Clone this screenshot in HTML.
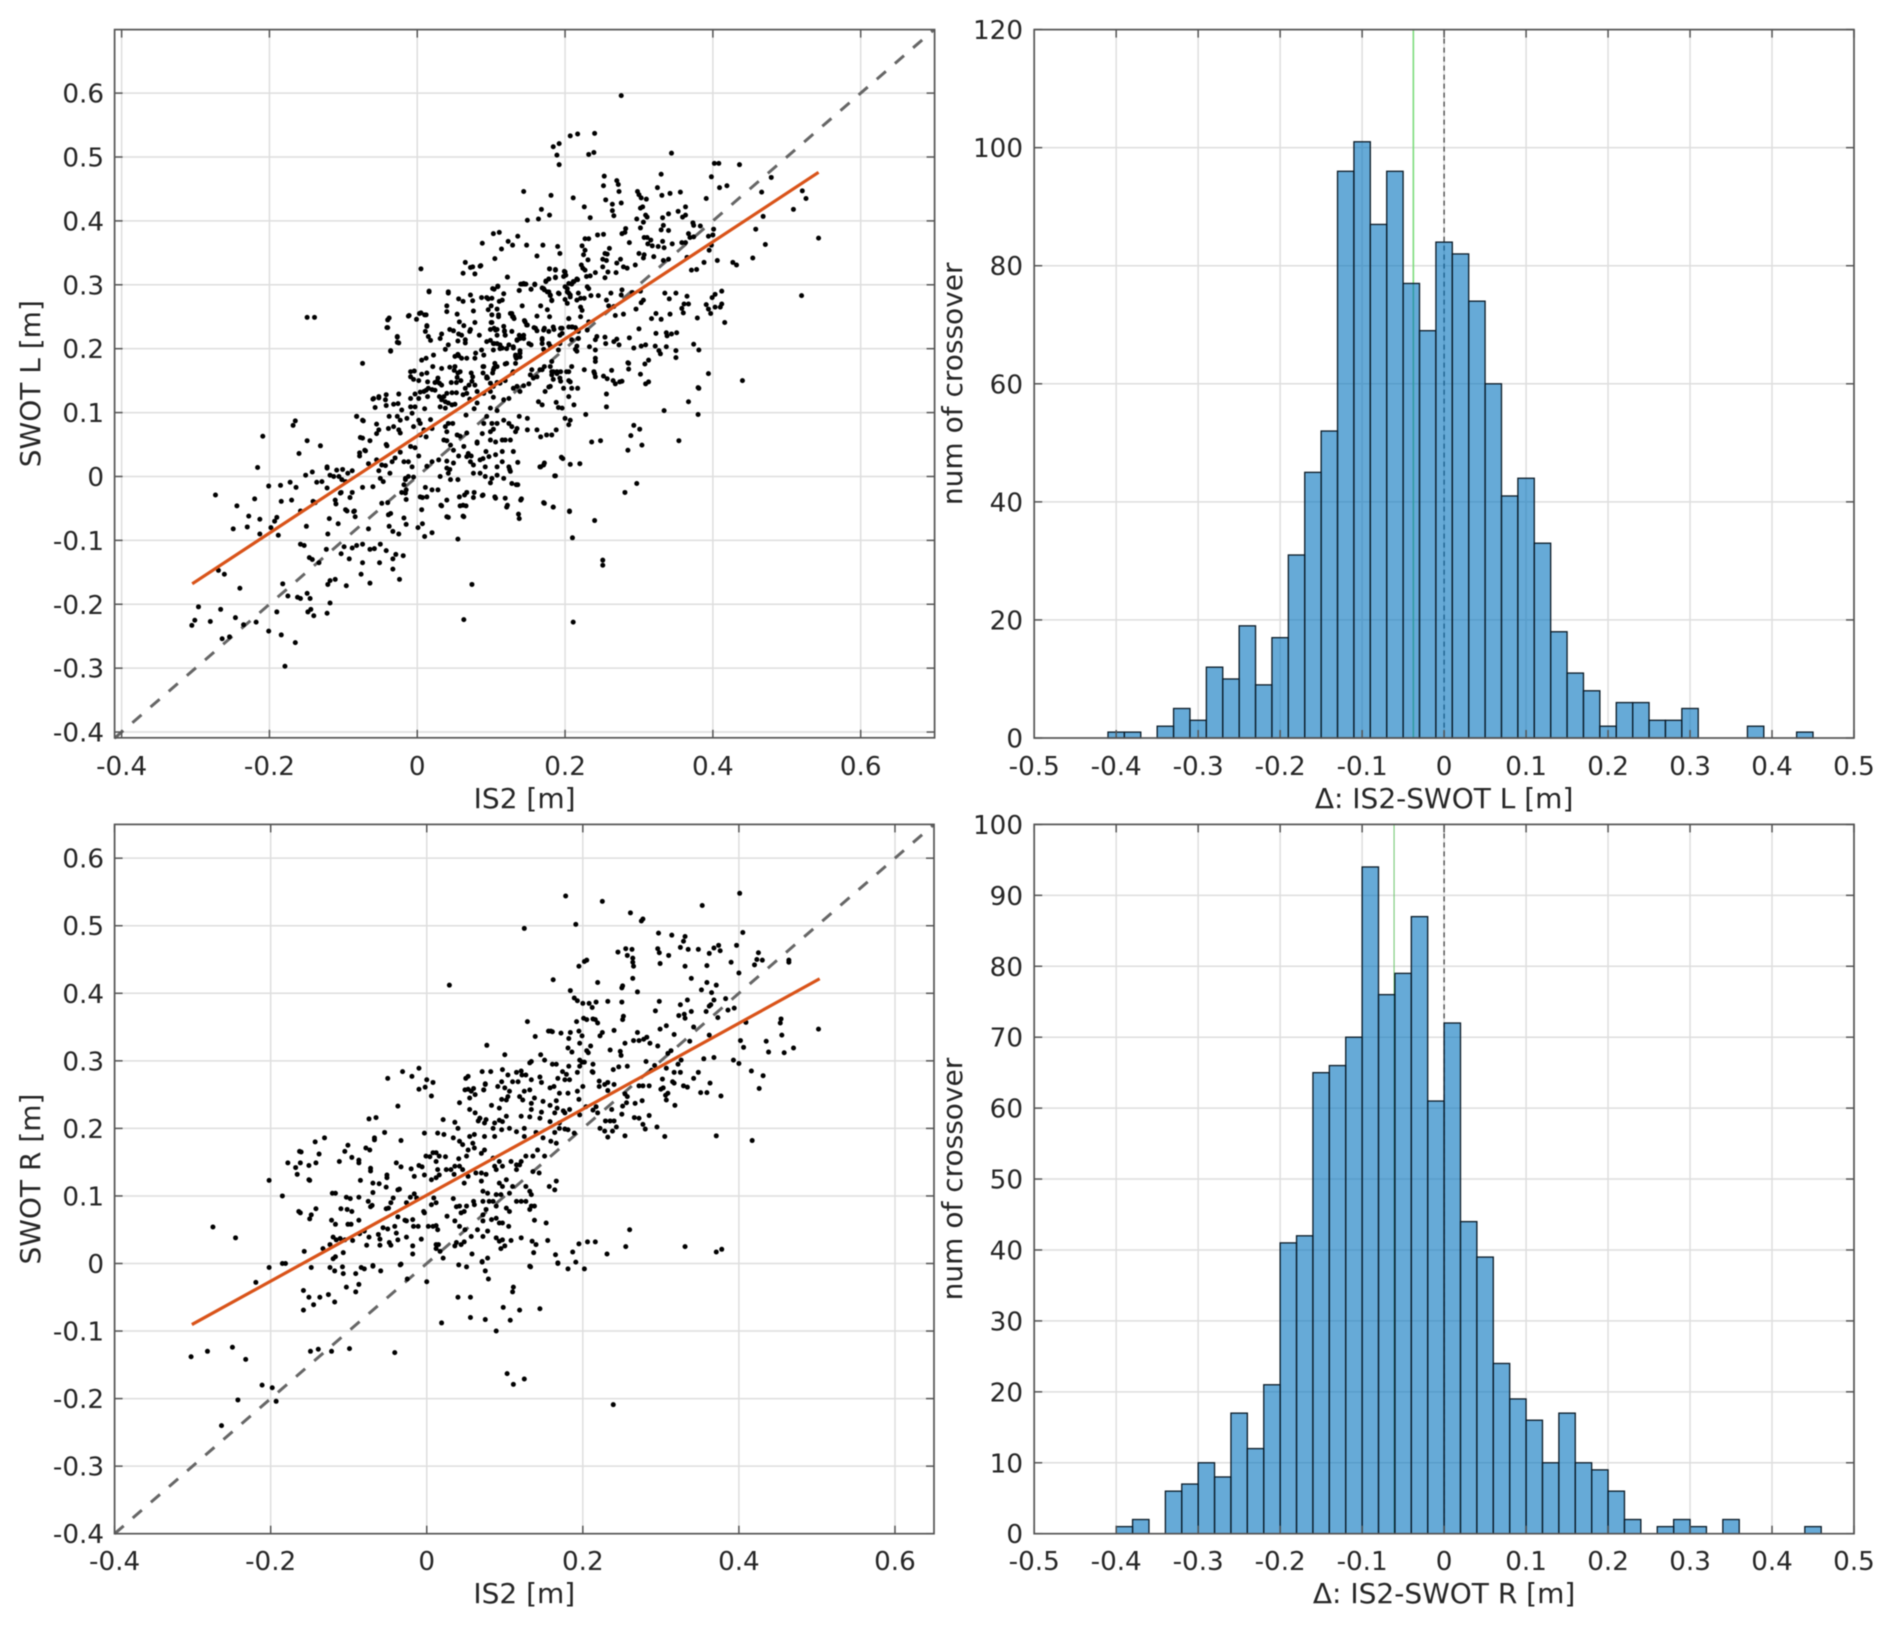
<!DOCTYPE html>
<html lang="en">
<head>
<meta charset="utf-8">
<title>IS2 versus SWOT crossover comparison</title>
<style>
html,body{margin:0;padding:0;background:#fff;width:1892px;height:1626px;overflow:hidden}
svg{display:block;filter:blur(0.4px)}
text{font-family:"DejaVu Sans","Liberation Sans",sans-serif;fill:#262626}
</style>
</head>
<body>
<svg id="fig" xmlns="http://www.w3.org/2000/svg" width="1892" height="1626" viewBox="0 0 1892 1626"></svg>
<script>
/* Scatter values: [IS2, SWOT] in millimetres */
const scatterLeft=[[-305,-233],[-301,-225],[-296,-204],[-280,-227],[-273,-29],[-269,-147],[-266,-208],[-264,-254],[-261,-153],[-254,-251],[-249,-82],[-244,-46],[-246,-221],[-240,-175],[-235,-232],[-230,-79],[-228,-62],[-220,-35],[-218,-228],[-216,14],[-213,-67],[-213,-90],[-209,63],[-201,-15],[-201,-242],[-198,-80],[-193,-70],[-190,-64],[-190,-212],[-188,-92],[-185,-14],[-184,-39],[-184,-248],[-182,-168],[-179,-297],[-175,-187],[-172,-9],[-170,-37],[-168,80],[-165,-260],[-165,87],[-164,-17],[-162,-189],[-160,36],[-158,-106],[-158,-54],[-158,-191],[-153,-108],[-151,2],[-149,249],[-149,56],[-150,-78],[-149,-183],[-148,-212],[-146,-127],[-145,-191],[-144,-208],[-142,7],[-141,-39],[-139,249],[-140,-218],[-136,-9],[-131,48],[-133,-135],[-121,-90],[-122,-214],[-121,-169],[-118,-163],[-111,-161],[-118,-198],[-122,15],
[5,325],[65,335],[62,318],[72,327],[75,328],[86,330],[78,317],[16,289],[42,289],[56,278],[62,274],[72,284],[75,275],[87,280],[94,280],[96,278],[101,279],[104,293],[109,297],[122,312],[117,286],[115,276],[111,274],[138,291],[142,301],[145,301],[147,301],[154,293],[159,300],[169,295],[172,292],[174,305],[178,309],[179,325],[187,323],[187,312],[199,321],[201,315],[205,302],[212,305],[217,308],[178,289],[180,284],[182,275],[191,287],[203,294],[205,287],[207,281],[200,277],[203,271],[216,276],[142,267],[167,267],[176,261],[162,251],[179,250],[100,267],[108,262],[96,261],[76,259],[40,258],[5,256],[12,253],[-12,251],[-1,246],[-38,248],[-41,233],[54,254],[57,242],[63,236],[78,241],[13,235],[11,227],[15,219],[18,213],[-27,219],[-25,209],[-36,197],[-74,177],[33,223],[31,216],[44,230],[49,228],[60,221],[56,223],[55,212],[65,214],[65,209],[71,227],[72,230],[84,221],[99,230],[104,232],[108,230],[117,235],[126,255],[129,250],[131,247],[145,244],[149,237],[158,233],[162,228],[172,232],[178,227],[184,234],[196,232],[205,247],[209,234],[216,229],[218,216],[101,241],[110,250],[108,221],[118,228],[119,221],[94,211],[104,208],[112,206],[115,201],[124,206],[130,201],[135,214],[139,216],[144,221],[133,190],[139,197],[154,206],[169,214],[171,199],[180,204],[191,198],[193,221],[209,214],[214,199],[42,206],[38,199],[55,191],[51,188],[56,189],[22,190],[12,185],[6,182],[79,193],[90,190],[87,198],[78,185],[67,185],[60,185],[103,198],[119,176],[108,172],[133,177],[134,185],[139,187],
[-9,164],[-4,165],[-9,156],[-5,152],[6,160],[2,150],[13,162],[21,172],[14,148],[33,169],[44,171],[51,172],[50,166],[55,162],[58,164],[54,155],[59,150],[73,162],[75,156],[28,154],[24,147],[30,146],[53,147],[46,147],[89,172],[89,162],[95,154],[102,162],[104,170],[112,146],[108,147],[119,150],[129,162],[-59,122],[-52,125],[-42,128],[-25,129],[-57,108],[-42,111],[-32,113],[-26,114],[-9,122],[-3,129],[4,132],[9,133],[12,135],[15,138],[20,136],[24,135],[27,149],[33,143],[2,122],[14,125],[30,125],[36,125],[40,130],[47,131],[53,131],[33,120],[38,117],[42,115],[47,112],[51,113],[31,109],[38,107],[-9,109],[-3,109],[10,106],[65,138],[70,143],[74,149],[78,143],[67,130],[62,128],[81,133],[90,130],[94,156],[99,146],[103,141],[99,133],[103,124],[71,121],[81,115],[66,96],[77,106],[94,94],[99,107],[108,103],[117,120],[124,122],[130,138],[135,141],[144,142],[151,145],[139,133],[157,154],[166,167],[172,172],[180,172],[184,164],[182,159],[189,161],[194,164],[205,164],[184,152],[164,117],[169,112],[188,116],[191,108],[196,107],[180,141],[173,133],[194,149],[205,150],[209,138],[217,138],[205,125],[212,112],
[-82,94],[-73,87],[-38,94],[-27,94],[-21,104],[-23,88],[-14,91],[-7,99],[2,88],[4,83],[18,89],[42,83],[48,83],[-55,82],[-52,73],[-55,67],[-39,75],[-32,78],[-25,73],[-23,68],[-5,78],[9,73],[20,75],[12,62],[4,65],[-77,61],[-64,56],[-78,37],[-71,41],[-42,50],[-41,48],[-23,38],[-9,47],[-3,45],[2,32],[-30,29],[-66,20],[-55,26],[38,78],[40,70],[36,57],[40,56],[54,65],[58,63],[67,68],[81,54],[88,67],[99,70],[103,74],[108,83],[101,83],[90,83],[99,57],[106,54],[115,57],[119,57],[126,57],[117,88],[124,83],[128,78],[135,75],[133,70],[138,94],[149,91],[149,73],[162,73],[167,62],[175,65],[182,65],[188,73],[200,91],[207,88],[205,81],[45,49],[49,41],[63,47],[69,36],[81,52],[93,39],[97,31],[106,34],[115,39],[130,39],[136,22],[67,31],[72,23],[76,18],[85,26],[92,15],[108,15],[124,15],[126,8],[197,28],[172,21],[166,15],[220,20],[186,1],[-48,18],[-43,17],[-52,9],[-37,5],[-34,23],[-18,23],[-12,23],[-7,15],[-16,-3],[-12,0],[-50,-3],[-46,-8],[13,16],[20,23],[29,26],[40,24],[49,21],[40,13],[42,5],[31,0],[45,-5],[55,-5],[76,5],[85,5],[92,0],[101,-3],[99,-10],[117,-3],[128,-11],[136,-13],[108,2],
[-122,13],[-118,2],[-113,0],[-109,10],[-101,11],[-106,0],[-102,-5],[-97,-8],[-94,5],[-88,9],[-129,-8],[-122,-18],[-104,-26],[-88,-25],[-74,-17],[-60,-16],[-110,-43],[-97,-52],[-86,-55],[-84,-63],[-48,-42],[-39,-60],[-18,-13],[-16,-26],[-15,-36],[4,-32],[13,-32],[20,-21],[6,-52],[-18,-65],[33,-46],[40,-63],[58,-46],[66,-46],[67,-25],[57,-32],[76,-33],[88,-30],[106,-34],[119,-34],[141,-35],[121,-48],[137,-59],[63,-63],[172,-42],[184,-48],[206,-55],
[-142,-130],[-123,-114],[-99,-110],[-88,-112],[-82,-108],[-74,-106],[-64,-114],[-58,-113],[-50,-106],[-42,-116],[-29,-122],[-19,-124],[-33,-129],[-51,-135],[-74,-135],[-92,-129],[-103,-121],[-76,-153],[-64,-167],[-96,-171],[-33,-145],[-24,-161],[-38,-78],[-33,-86],[-25,-90],[-40,-41],[-36,-58],[-15,-75],[1,-80],[10,-94],[20,-88],[7,-74],[-91,-33],[-85,-54],[-66,-82],[-107,-74],[-95,-54],[-119,-66],[-138,-41],[-111,-37],[-103,-25],[-82,94],[-74,88],[-74,60],[-60,121],[-52,123],[-43,120],[-40,245],[-40,233],[-27,218],[-27,210],[-36,196],[-11,252],[3,255],[10,253],[13,236],[16,290],[40,267],[42,287],[-78,32],[-70,40],
[207,533],[217,536],[240,537],[184,516],[192,521],[189,503],[192,488],[232,504],[239,507],[344,506],[402,490],[408,490],[436,488],[398,469],[479,468],[253,470],[252,455],[270,463],[272,457],[273,446],[255,433],[264,426],[276,428],[264,416],[266,408],[144,446],[181,440],[211,436],[226,422],[234,405],[168,418],[179,409],[164,403],[149,401],[298,446],[300,441],[303,436],[310,434],[302,420],[305,422],[309,409],[311,406],[297,403],[306,398],[302,389],[325,452],[331,440],[342,443],[356,445],[330,473],[409,452],[419,455],[391,435],[363,422],[353,415],[359,406],[363,409],[340,411],[332,405],[333,393],[330,386],[340,385],[373,397],[374,393],[383,392],[367,380],[369,374],[374,375],[358,366],[363,366],[345,364],[394,376],[400,378],[401,387],[466,445],[521,447],[526,435],[509,418],[468,407],[458,387],[471,363],[454,342],[543,373],[520,283],[427,335],[432,331],[406,338],[395,354],[398,362],[388,335],[378,324],[371,323],[365,343],[333,338],[340,340],[320,344],[300,349],[307,347],[306,342],[277,380],[281,382],[282,388],[287,366],[307,374],[311,374],[316,370],[312,364],[318,361],[326,360],[332,368],[334,358],[295,331],[284,326],[279,328],[275,340],[270,334],[269,319],[258,320],[251,328],[251,340],[256,338],[254,349],[260,357],[257,348],[244,378],[252,379],[227,372],[232,372],[223,361],[227,354],[225,347],[231,339],[222,331],[224,326],[227,323],[241,319],[234,314],[229,313],[254,311],[190,360],[193,349],[170,362],[162,345],[148,362],[136,376],[129,362],[123,368],[114,356],[105,341],[88,365],[103,380],[111,382],[85,329],[122,312],[179,325],[187,324],[200,320],[174,306],[178,309],[187,311],[198,313],[216,309],[211,305],[209,301],[200,297],[203,289],[207,284],[230,297],[232,294],[218,287],[221,279],[226,279],[245,283],[235,283],[144,302],[140,301],[159,301],[154,293],[138,291],[171,294],[176,289],[180,283],[182,276],[192,286],[102,294],[109,298],
[262,287],[256,276],[259,267],[277,292],[276,284],[291,288],[302,290],[306,276],[303,272],[296,262],[266,266],[268,252],[279,254],[335,287],[341,278],[350,287],[365,282],[361,270],[367,270],[358,263],[360,256],[379,248],[391,269],[394,262],[397,255],[399,280],[403,285],[412,290],[412,270],[410,265],[403,265],[416,241],[323,255],[317,247],[330,246],[342,254],[300,231],[323,224],[337,225],[344,223],[351,225],[338,220],[287,217],[374,207],[381,198],[293,201],[303,204],[309,206],[322,204],[327,197],[329,192],[337,203],[350,197],[350,186],[313,182],[308,176],[286,177],[286,168],[263,166],[252,157],[257,153],[265,150],[274,148],[302,160],[309,145],[394,161],[440,150],[381,138],[254,218],[255,208],[266,211],[270,215],[273,206],[241,214],[243,219],[233,203],[241,198],[241,185],[241,180],[216,204],[216,196],[226,167],[239,164],[241,156],[185,230],[194,232],[171,229],[160,232],[146,242],[148,237],[128,255],[130,250],[110,253],[101,253],[100,241],[106,229],[118,227],[119,221],[128,227],[138,221],[135,213],[144,216],[151,208],[169,216],[169,208],[178,208],[205,234],[210,234],[214,233],[221,250],[223,260],[221,265],[205,247],[232,242],[230,229],[218,227],[196,224],[193,208],[218,216],[103,208],[99,213],[108,208],[112,200],[121,200],[130,203],[139,193],[133,188],[121,177],[105,177],[103,167],[90,172],[94,154],[130,164],[155,167],[153,159],[162,156],[169,167],[182,180],[182,164],[189,164],[202,164],[209,172],[193,154],[198,138],[207,148],[178,140],
[334,103],[354,56],[367,117],[380,139],[380,97],[281,-25],[297,-11],[285,41],[304,49],[289,64],[293,80],[301,74],[236,54],[248,56],[195,30],[207,19],[187,1],[171,18],[167,15],[171,-41],[184,-48],[206,-54],[210,-96],[240,-69],[251,-131],[251,-139],[211,-228],[63,-224],[74,-169],[55,-98],[138,-66],[140,-37],[122,-45],[105,-32],[89,-29],[64,-29],[77,-25],[62,-45],[40,-37],[42,-64],[62,-62],[32,-45],[134,-13],[125,11],[115,23],[89,28],[73,32],[56,32],[44,11],[28,-21],[11,-17],[7,-33],[-5,-1],[-16,-5],[-15,-21],[-21,-25],[228,97],[256,129],[256,109],[240,161],[268,145],[285,178],[313,148],[277,149],[276,596]];

const scatterRight=[[178,544],[225,536],[261,519],[275,507],[277,510],[125,496],[191,502],[353,530],[401,548],[405,490],[297,489],[314,486],[331,484],[329,477],[325,468],[335,465],[348,465],[397,471],[374,471],[368,467],[376,463],[362,459],[296,466],[298,460],[310,456],[245,461],[255,466],[263,465],[257,456],[264,452],[264,446],[265,440],[299,444],[331,440],[359,441],[390,446],[420,442],[423,450],[430,449],[425,460],[464,449],[464,446],[400,430],[195,440],[202,447],[205,449],[162,420],[219,416],[264,422],[251,411],[250,408],[270,402],[339,422],[359,416],[371,412],[352,405],[365,401],[184,404],[189,393],[193,389],[200,385],[208,385],[217,387],[212,379],[232,388],[250,387],[298,388],[293,374],[325,383],[334,390],[368,390],[364,383],[362,381],[339,373],[383,392],[394,378],[386,375],[323,367],[330,369],[331,363],[373,364],[358,373],[129,358],[192,358],[201,363],[205,361],[213,362],[216,361],[219,356],[252,366],[251,361],[409,357],[454,362],[453,356],[342,350],[307,352],[299,347],[240,345],[317,339],[270,342],[362,338],[156,344],[159,344],[161,343],[172,341],[184,342],[195,344],[199,337],[182,333],[225,342],[222,337],[139,336],[455,338],[77,323],[265,330],[272,330],[278,332],[282,335],[286,326],[254,326],[196,326],[337,329],[402,330],[435,329],[210,322],[181,319],[296,322],[406,320],[470,319],[186,313],[205,315],[207,312],[235,316],[248,314],[438,313],[458,312],[249,308],[309,311],[313,315],[100,309],[146,309],[151,301],[132,297],[134,299],[355,303],[368,305],[393,301],[326,301],[281,299],[322,295],[400,296],[307,289],[292,293],[288,286],[257,292],[246,291],[239,287],[213,295],[196,301],[199,298],[202,298],[196,292],[193,283],[161,295],[166,295],[182,292],[174,284],[179,280],[212,284],[213,283],[71,284],[82,284],[97,287],[104,279],[115,283],[121,285],[122,279],[127,279],[416,285],[431,278],[317,283],[325,283],[348,283],[342,274],[302,273],[363,267],[315,269],[317,267],[329,263],[334,261],[426,259],[300,258],[303,260],[309,252],[306,249],[307,242],[351,253],[359,253],[377,248],[318,234],[221,270],[232,268],[228,265],[240,265],[221,262],[232,256],[272,263],[277,263],[285,263],[254,251],[276,241],[257,247],[267,237],[256,238],[251,233],[237,228],[217,232],[213,227],[219,223],[250,221],[204,232],[196,220],[266,216],[272,215],[285,219],[277,206],[229,211],[235,211],[240,211],[243,202],[280,199],[295,202],[305,188],[371,189],[254,189],[238,196],[232,187],[222,200],[228,196],[502,347],[417,182],[29,412],
[75,266],[73,257],[96,269],[91,262],[110,269],[117,269],[100,260],[106,255],[104,247],[96,243],[102,242],[83,234],[93,230],[119,247],[123,242],[125,255],[132,257],[134,272],[145,276],[147,268],[138,245],[134,237],[149,240],[158,260],[163,262],[170,252],[177,272],[183,272],[168,274],[193,255],[200,262],[181,252],[195,243],[166,241],[158,234],[167,230],[175,226],[183,228],[164,223],[121,218],[132,217],[134,228],[147,224],[145,215],[158,210],[170,208],[177,223],[170,200],[177,199],[76,213],[68,215],[93,212],[97,210],[102,218],[87,208],[85,200],[96,198],[106,200],[115,195],[125,200],[140,194],[164,194],[189,193],[74,208],[74,188],[87,188],[125,188],[149,186],[181,198],
[-50,274],[-31,284],[-19,277],[-10,289],[0,272],[8,268],[-2,261],[-10,258],[6,248],[-37,233],[-74,214],[-65,216],[50,274],[53,277],[60,259],[49,257],[53,258],[57,255],[73,257],[75,265],[62,250],[55,245],[42,238],[55,228],[62,223],[68,215],[66,211],[21,213],[36,209],[40,200],[-54,194],[-67,186],[-67,183],[-33,182],[-131,186],[-143,180],[-101,175],[-105,166],[-78,171],[-73,168],[-138,162],[-96,157],[-87,153],[-87,149],[-112,151],[-163,166],[-162,149],[-142,149],[-151,145],[-72,141],[-72,137],[-39,149],[-33,143],[-20,140],[-85,123],[-150,123],[-51,131],[-51,127],[-16,129],[-10,145],[-6,143],[-3,131],[-1,159],[4,158],[12,164],[8,164],[-3,193],[14,193],[22,191],[34,186],[55,188],[61,191],[16,159],[24,158],[41,155],[51,159],[53,168],[42,181],[46,176],[59,178],[61,171],[12,151],[14,139],[16,131],[6,124],[12,127],[25,139],[31,139],[36,144],[42,144],[46,139],[35,132],[53,129],[63,134],[48,119],[-69,119],[-61,118],[-52,113],[-37,109],[-35,110],[-69,105],[-121,104],[-117,104],[-103,98],[-98,96],[-87,98],[-75,92],[-70,86],[-72,84],[-43,97],[-46,90],[-52,81],[-49,82],[-21,98],[-16,103],[-13,97],[-26,90],[-142,81],[-110,81],[-102,80],[-96,77],[-162,75],[-148,72],[-150,66],[-122,64],[-117,58],[-101,58],[-97,58],[-87,64],[-37,69],[-28,64],[-26,63],[-18,65],[-17,55],[-11,55],[-3,75],[-4,77],[9,97],[6,87],[12,90],[2,55],[8,55],[12,56],[14,50],[26,70],[34,96],[38,84],[42,85],[44,75],[48,77],[51,85],[60,92],[61,87],[36,63],[42,55],[57,40],[49,50],[-56,53],[-50,51],[-41,55],[-39,45],[-62,43],[-60,36],[-74,39],[-80,48],[-86,44],[-95,34],[-105,35],[-111,37],[-120,39],[-116,35],[-133,22],[-124,28],[-107,16],[-117,10],[-120,7],[-157,18],[-77,27],[-60,27],[-48,31],[-46,27],[-37,35],[-26,39],[-18,26],[-18,14],[-7,36],[12,28],[15,28],[17,18],[21,8],[12,22],[48,32],[38,31],[44,28],[58,14],[36,26],[-69,-3],[-84,-6],[-108,-5],[-124,-6],[-148,-6],[-33,-1],[41,-2],[51,-5],[71,3],[78,8],
[70,163],[74,168],[85,156],[87,144],[93,151],[89,139],[97,144],[108,151],[115,146],[121,151],[127,159],[136,159],[142,168],[151,159],[159,181],[166,178],[70,134],[76,132],[70,122],[93,119],[102,124],[97,114],[115,139],[119,146],[136,136],[144,134],[157,114],[166,122],[164,109],[110,114],[127,114],[132,107],[134,102],[72,107],[78,104],[80,92],[85,92],[89,102],[95,102],[106,104],[115,92],[121,92],[127,92],[134,85],[138,85],[132,80],[102,82],[106,77],[89,85],[72,92],[72,72],[76,80],[83,65],[89,67],[93,60],[97,60],[105,55],[72,63],[65,50],[72,40],[78,48],[89,38],[93,33],[97,35],[108,34],[100,26],[95,22],[121,38],[138,64],[153,60],[135,33],[155,34],[140,28],[137,16],[71,2],[132,-4],[165,13],[168,1],
[-302,-138],[-281,-130],[-274,54],[-245,38],[-249,-124],[-263,-240],[-242,-202],[-232,-142],[-219,-28],[-211,-180],[-202,-6],[-202,123],[-198,-184],[-193,-204],[-185,100],[-185,0],[-181,0],[-178,149],[-168,142],[-166,132],[-161,165],[-151,124],[-164,77],[-149,-130],[-139,-127],[-122,-130],[-99,-126],[-41,-132],[-158,-40],[-158,-69],[-151,-50],[-145,-61],[-137,-50],[-126,-46],[-118,-57],[-103,-35],[-91,-42],[-87,-31],[-118,-11],[-107,-15],[-91,-15],[-80,-8],[-69,-4],[-59,-11],[-34,-2],[-25,-23],[0,-27],[19,-88],[40,-50],[56,-50],[56,-80],[75,-83],[75,-11],[79,-23],[89,-100],[98,-65],[107,-84],[110,-42],[111,-35],[119,-69],[145,-67],[133,-5],[103,-163],[111,-179],[125,-171],[239,-209],[168,0],[181,-8],[191,2],[202,-8],[187,17],[195,29],[206,32],[216,32],[231,14],[255,25],[260,50],[331,25],[371,17],[378,21]];

/* Fitted lines: [IS2, SWOT] end points in metres */
const fitLeft=[[-0.3045,-0.168],[0.543,0.476]];
const fitRight=[[-0.301,-0.0904],[0.5035,0.4215]];
const identityLeft=[-0.41,0.7];
const identityRight=[-0.4,0.65];

/* Histogram counts */
const histLeftFirstEdge=-0.41;
const histRightFirstEdge=-0.40;
const histBinWidth=0.02;
const histLeftCounts=[1,1,0,2,5,3,12,10,19,9,17,31,45,52,96,101,87,96,77,69,84,82,74,60,41,44,33,18,11,8,2,6,6,3,3,5,0,0,0,2,0,0,1,0,0,0];
const histRightCounts=[1,2,0,6,7,10,8,17,12,21,41,42,65,66,70,94,76,79,87,61,72,44,39,24,19,16,10,17,10,9,6,2,0,1,2,1,0,2,0,0,0,0,1,0,0];
const meanLeft=-0.0375;
const meanRight=-0.061;

/* Tick labels */
const scatterXTicks=[-0.4,-0.2,0,0.2,0.4,0.6];
const scatterYTicks=[-0.4,-0.3,-0.2,-0.1,0,0.1,0.2,0.3,0.4,0.5,0.6];
const histXTicks=[-0.5,-0.4,-0.3,-0.2,-0.1,0,0.1,0.2,0.3,0.4,0.5];
const histLeftYTicks=[0,20,40,60,80,100,120];
const histRightYTicks=[0,10,20,30,40,50,60,70,80,90,100];

const NS='http://www.w3.org/2000/svg';
const fig=document.getElementById('fig');
function el(tag,attrs,parent){
  const e=document.createElementNS(NS,tag);
  for(const k in attrs) e.setAttribute(k,attrs[k]);
  (parent||fig).appendChild(e);
  return e;
}
function makeAxes(name,box,xlim,ylim){
  const g=el('g',{});
  
  
  const id='clip-'+name;
  const cp=el('clipPath',{id:id},g);
  el('rect',{x:box.l,y:box.t,width:box.r-box.l,height:box.b-box.t+1.5},cp);
  const x=v=>box.l+(v-xlim[0])/(xlim[1]-xlim[0])*(box.r-box.l);
  const y=v=>box.b-(v-ylim[0])/(ylim[1]-ylim[0])*(box.b-box.t);
  const plot=el('g',{'clip-path':'url(#'+id+')'},g);
  return {g,plot,x,y,box};
}
function drawGrid(a,xt,yt){
  xt.forEach(v=>{
    const line=el('line',{x1:a.x(v),x2:a.x(v),y1:a.box.t,y2:a.box.b,stroke:'#dedede','stroke-width':1.5},a.g);
    
    
  });
  yt.forEach(v=>{
    const line=el('line',{x1:a.box.l,x2:a.box.r,y1:a.y(v),y2:a.y(v),stroke:'#dedede','stroke-width':1.5},a.g);
    
    
  });
  a.g.appendChild(a.plot);
}
function drawFrame(a,xt,yt,xlabel,ylabel,xTickBase,xLabelBase,yTickRight,yLabelX){
  const b=a.box, tl=8, col='#555';
  const frame=el('rect',{x:b.l,y:b.t,width:b.r-b.l,height:b.b-b.t,fill:'none',stroke:col,'stroke-width':1.7},a.g);
  
  
  xt.forEach(v=>{
    const px=a.x(v);
    el('line',{x1:px,x2:px,y1:b.b,y2:b.b-tl,stroke:col,'stroke-width':1.5},a.g);
    el('line',{x1:px,x2:px,y1:b.t,y2:b.t+tl,stroke:col,'stroke-width':1.5},a.g);
    const t=el('text',{x:px,y:xTickBase,'text-anchor':'middle','font-size':26.2},a.g);
    
    
    t.textContent=String(v);
  });
  yt.forEach(v=>{
    const py=a.y(v);
    el('line',{x1:b.l,x2:b.l+tl,y1:py,y2:py,stroke:col,'stroke-width':1.5},a.g);
    el('line',{x1:b.r,x2:b.r-tl,y1:py,y2:py,stroke:col,'stroke-width':1.5},a.g);
    const t=el('text',{x:yTickRight,y:py+9.5,'text-anchor':'end','font-size':26.2},a.g);
    
    
    t.textContent=String(v);
  });
  const xl=el('text',{x:(b.l+b.r)/2,y:xLabelBase,'text-anchor':'middle','font-size':28},a.g);
  
  
  xl.textContent=xlabel;
  const cy=(b.t+b.b)/2;
  const yl=el('text',{x:yLabelX,y:cy,'text-anchor':'middle','font-size':28,transform:'rotate(-90 '+yLabelX+' '+cy+')'},a.g);
  
  
  yl.textContent=ylabel;
}
function drawScatter(a,points,fit,identity){
  const dash=el('line',{x1:a.x(identity[0]),y1:a.y(identity[0]),x2:a.x(identity[1]),y2:a.y(identity[1]),stroke:'#666','stroke-width':3,'stroke-dasharray':'12 12'},a.plot);
  
  
  points.forEach(p=>{
    const c=el('circle',{cx:a.x(p[0]/1000),cy:a.y(p[1]/1000),r:2.5,fill:'#000'},a.plot);
    
    
  });
  const f=el('line',{x1:a.x(fit[0][0]),y1:a.y(fit[0][1]),x2:a.x(fit[1][0]),y2:a.y(fit[1][1]),stroke:'#D95319','stroke-width':3.2},a.plot);
  
  
}
function drawHist(a,counts,firstEdge,mean,meanColor,meanWidth){
  const m=el('line',{x1:a.x(mean),x2:a.x(mean),y1:a.box.t,y2:a.box.b,stroke:meanColor,'stroke-width':meanWidth},a.plot);
  
  
  const z=el('line',{x1:a.x(0),x2:a.x(0),y1:a.box.t,y2:a.box.b,stroke:'#444','stroke-width':1.3,'stroke-dasharray':'5 4'},a.plot);
  
  
  counts.forEach((c,i)=>{
    const x0=a.x(firstEdge+i*histBinWidth), x1=a.x(firstEdge+(i+1)*histBinWidth);
    const r=el('rect',{x:x0,y:a.y(c),width:x1-x0,height:a.y(0)-a.y(c),fill:'rgba(0,114,189,0.6)',stroke:'#0a1a26','stroke-width':1.3},a.plot);
    
    
  });
}

const boxTL={l:114.6,r:934.6,t:29.6,b:737.8};
const boxTR={l:1034.2,r:1854,t:29.6,b:738};
const boxBL={l:114.6,r:934,t:824.4,b:1533.7};
const boxBR={l:1034.2,r:1854,t:824.4,b:1533.7};

const a1=makeAxes('scatter-swot-l',boxTL,[-0.4095,0.7],[-0.409,0.6994]);
drawGrid(a1,scatterXTicks,scatterYTicks);
drawScatter(a1,scatterLeft,fitLeft,identityLeft);
drawFrame(a1,scatterXTicks,scatterYTicks,'IS2 [m]','SWOT L [m]',775,808,104,40);

const a2=makeAxes('hist-swot-l',boxTR,[-0.5,0.5],[0,120]);
drawGrid(a2,histXTicks,histLeftYTicks);
drawHist(a2,histLeftCounts,histLeftFirstEdge,meanLeft,'#7ddc7d',1.6);
drawFrame(a2,histXTicks,histLeftYTicks,'\u0394: IS2-SWOT L [m]','num of crossover',775,808,1023,962);

const a3=makeAxes('scatter-swot-r',boxBL,[-0.4,0.65],[-0.4,0.65]);
drawGrid(a3,scatterXTicks,scatterYTicks);
drawScatter(a3,scatterRight,fitRight,identityRight);
drawFrame(a3,scatterXTicks,scatterYTicks,'IS2 [m]','SWOT R [m]',1570,1603,104,40);

const a4=makeAxes('hist-swot-r',boxBR,[-0.5,0.5],[0,100]);
drawGrid(a4,histXTicks,histRightYTicks);
drawHist(a4,histRightCounts,histRightFirstEdge,meanRight,'#6cc56c',1);
drawFrame(a4,histXTicks,histRightYTicks,'\u0394: IS2-SWOT R [m]','num of crossover',1570,1603,1023,962);
</script>
</body>
</html>
